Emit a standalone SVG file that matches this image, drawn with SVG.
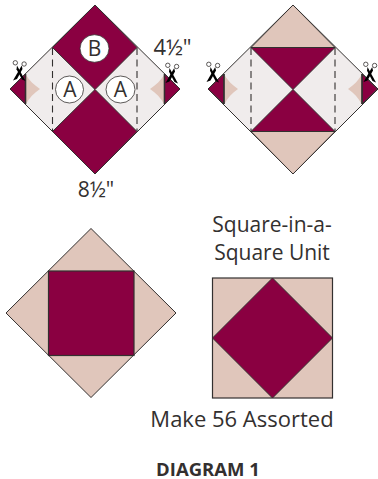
<svg xmlns="http://www.w3.org/2000/svg" width="378" height="479" viewBox="0 0 378 479">
<style>
.s{stroke:#33302f;stroke-width:1;stroke-linejoin:round}
.m{fill:#8a0041}.p{fill:#e0c6bb}.l{fill:#f0ecec}
.cut{fill:none;stroke:#33302f;stroke-width:1.6}
.d{fill:none;stroke:#33302f;stroke-width:1.1;stroke-dasharray:7 4.5}
.o{fill:#fff;stroke:#33302f;stroke-width:.8}
.bl{fill:#000}.h{fill:none;stroke:#33302f;stroke-width:.8}
text{font-family:"Open Sans","Noto Sans","Liberation Sans",sans-serif;fill:#33302f;text-anchor:middle}
.t{font-size:21px}.lab{font-size:21px}
</style>
<defs>
<g id="sc">
<path class="bl" d="M-6.500 9 L2.200 -6 L3 -2.500 L-2.500 7.500 Z"/>
<path class="bl" d="M6 9.500 L-2.500 -6 L-3 -2.200 L2.500 8 Z"/>
<circle class="h" cx="-4.200" cy="-8.700" r="2.200"/>
<circle class="h" cx="4.600" cy="-7.500" r="2.200"/>
</g>
</defs>
<g id="connectors"></g>
<g id="unit-left">
<polygon class="l s" points="10,89 95,5 180,89 95,174"/>
<polygon class="m s" points="52.500,47.500 95,5 137,47.500 95,89.500"/>
<polygon class="m s" points="52.500,131.500 95,89.500 137,131.500 95,174"/>
<polygon class="m s" points="10,89 25.500,74 25.500,104"/>
<polygon class="m s" points="180,89 164.500,74 164.500,104"/>
<path class="p" d="M26,75 C29,80 34,85 40,89 C34,93 29,98 26,104 Z"/>
<path class="p" d="M164,75 C161,80 156,85 150,89 C156,93 161,98 164,104 Z"/>
<path class="cut" d="M25.500,74 V104 M164.500,74 V104"/>
<path class="d" d="M52.500,48 V131 M137,48 V131"/>
<ellipse class="o" cx="94.500" cy="48.500" rx="14.500" ry="13.800"/>
<ellipse class="o" cx="69.500" cy="89.500" rx="14" ry="13.500"/>
<ellipse class="o" cx="120.500" cy="89.500" rx="14.500" ry="13.500"/>
<text class="lab" x="94.500" y="56">B</text>
<text class="lab" x="70" y="97">A</text>
<text class="lab" x="120.500" y="97">A</text>
<use href="#sc" x="19.500" y="71.500"/>
<use href="#sc" x="172" y="74"/>
</g>
<g id="unit-right">
<polygon class="l s" points="208,89 293,5 378,89 293,174"/>
<polygon class="p s" points="251,47.500 293,5 335,47.500"/>
<polygon class="p s" points="251,131.500 293,174 335,131.500"/>
<polygon class="m s" points="251,47.500 335,47.500 293,89.500"/>
<polygon class="m s" points="251,131.500 335,131.500 293,89.500"/>
<polygon class="m s" points="208,89 224,74 224,104"/>
<polygon class="m s" points="377.500,89 362,74 362,104"/>
<path class="p" d="M224.500,75 C227.500,80 232,85 238,89 C232,93 227.500,98 224.500,104 Z"/>
<path class="p" d="M361.500,75 C358.500,80 354,85 348,89 C354,93 358.500,98 361.500,104 Z"/>
<path class="cut" d="M224,74 V104 M362,74 V104"/>
<path class="d" d="M251,48 V131 M335,48 V131"/>
<use href="#sc" x="213" y="73"/>
<use href="#sc" x="370" y="73"/>
</g>
<g id="unit-sewn">
<polygon class="p s" points="6,313 91,228.500 176,313 91,397.500"/>
<rect class="m" x="48.500" y="271" width="85.500" height="84.500" stroke="#33302f" stroke-width="1.200"/>
</g>
<g id="unit-finished">
<rect class="p" x="212.500" y="278" width="120" height="120" stroke="#33302f" stroke-width="1.200"/>
<polygon class="m s" points="272.500,278 332.500,338 272.500,398 212.500,338"/>
</g>
<g id="labels">
<text x="172.500" y="55" style="font-size:22px">4½"</text>
<text class="t" x="96" y="197">8½"</text>
<text class="t" x="272" y="232">Square-in-a-</text>
<text class="t" x="272" y="260">Square Unit</text>
<text x="242" y="427" style="font-size:22px">Make 56 Assorted</text>
<text x="208" y="475.500" style="font-size:18.500px" font-weight="700">DIAGRAM 1</text>
</g>
</svg>
